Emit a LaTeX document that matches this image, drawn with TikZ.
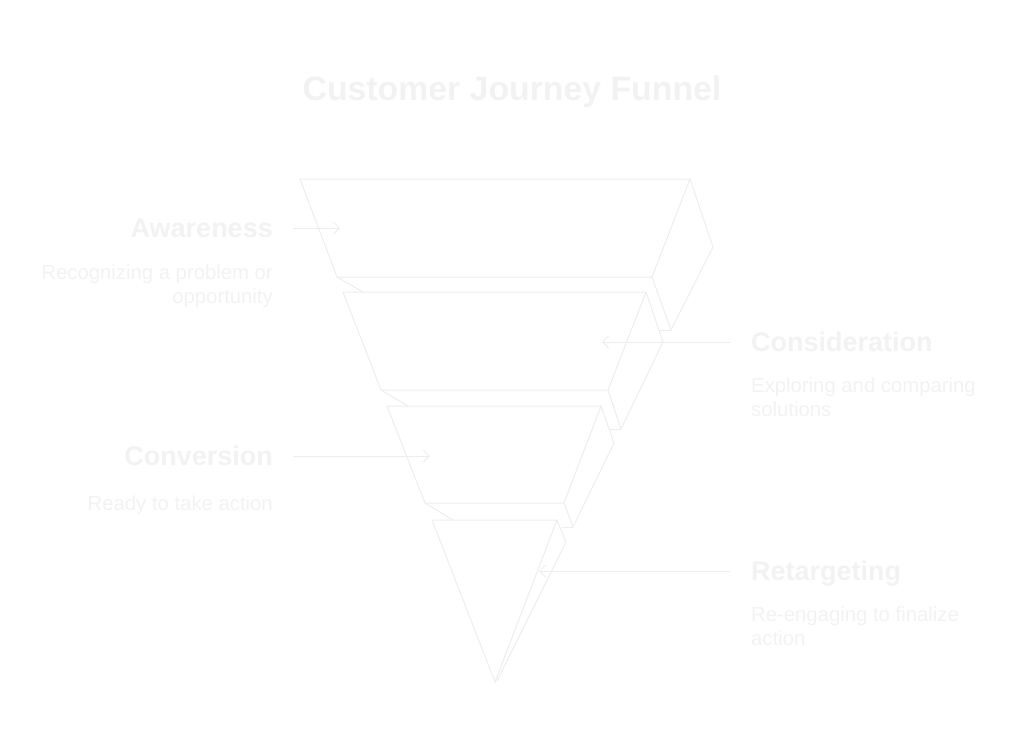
\documentclass[tikz,border=0pt]{standalone}
\usepackage{fontspec}
\setmainfont{Liberation Sans}
\usetikzlibrary{arrows.meta}
\definecolor{linec}{HTML}{EDEDED}
\definecolor{textc}{HTML}{F2F2F2}
\tikzset{
  edge/.style={draw=linec, line width=1pt, line join=miter},
  conn/.style={draw=linec, line width=1pt, -{Straight Barb[length=6pt,width=12pt]}},
  titletext/.style={text=textc, font=\fontsize{33.8}{40}\selectfont\bfseries, inner sep=0pt},
  headl/.style={text=textc, font=\fontsize{27}{32}\selectfont\bfseries, inner sep=0pt, anchor=base east},
  headr/.style={text=textc, font=\fontsize{27}{32}\selectfont\bfseries, inner sep=0pt, anchor=base west},
  descl/.style={text=textc, font=\fontsize{20.3}{24}\selectfont, inner sep=0pt, anchor=base east},
  descr/.style={text=textc, font=\fontsize{20.3}{24}\selectfont, inner sep=0pt, anchor=base west},
}
\begin{document}
\begin{tikzpicture}[x=1pt,y=-1pt]
\useasboundingbox (0,0) rectangle (1024,748);

% title
\node[titletext, anchor=base] (title) at (512,100) {Customer Journey Funnel};

% layer 1 (Awareness)
\draw[edge] (300,179) -- (690,179) -- (652,277) -- (337,277) -- cycle;
\draw[edge] (690,179) -- (713,247) -- (671,330) -- (652,277);
\draw[edge] (659,330) -- (671,330);
\draw[edge] (337,277) -- (363,292);

% layer 2 (Consideration)
\draw[edge] (343,292) -- (646,292) -- (608,390) -- (381,390) -- cycle;
\draw[edge] (646,292) -- (663,342) -- (621,429) -- (608,390);
\draw[edge] (610,429) -- (621,429);
\draw[edge] (381,390) -- (408,406);

% layer 3 (Conversion)
\draw[edge] (387,406) -- (601,406) -- (564,503) -- (425,503) -- cycle;
\draw[edge] (601,406) -- (614,443) -- (573,527) -- (564,503);
\draw[edge] (562,527) -- (573,527);
\draw[edge] (425,503) -- (453,520);

% layer 4 (Retargeting)
\draw[edge] (432,520) -- (557,520) -- (495,682) -- cycle;
\draw[edge] (557,520) -- (566,542) -- (497,681);

% labels
\node[headl] (aw) at (273,237) {Awareness};
\node[descl] (aw1) at (273,279) {Recognizing a problem or};
\node[descl] (aw2) at (273,303) {opportunity};

\node[headr] (co) at (751,351) {Consideration};
\node[descr] (co1) at (751,392) {Exploring and comparing};
\node[descr] (co2) at (751,416) {solutions};

\node[headl] (cv) at (273,465) {Conversion};
\node[descl] (cv1) at (273,510) {Ready to take action};

\node[headr] (rt) at (751,580) {Retargeting};
\node[descr] (rt1) at (751,621) {Re-engaging to finalize};
\node[descr] (rt2) at (751,645) {action};

% connector end points
\coordinate (awS) at (293,228);
\coordinate (awE) at (340,228);
\coordinate (coS) at (730,342);
\coordinate (coE) at (602,342);
\coordinate (cvS) at (293,456);
\coordinate (cvE) at (430,456);
\coordinate (rtS) at (730,571);
\coordinate (rtE) at (539,571);

\draw[conn] (awS) -- (awE);
\draw[conn] (coS) -- (coE);
\draw[conn] (cvS) -- (cvE);
\draw[conn] (rtS) -- (rtE);
\end{tikzpicture}
\end{document}
